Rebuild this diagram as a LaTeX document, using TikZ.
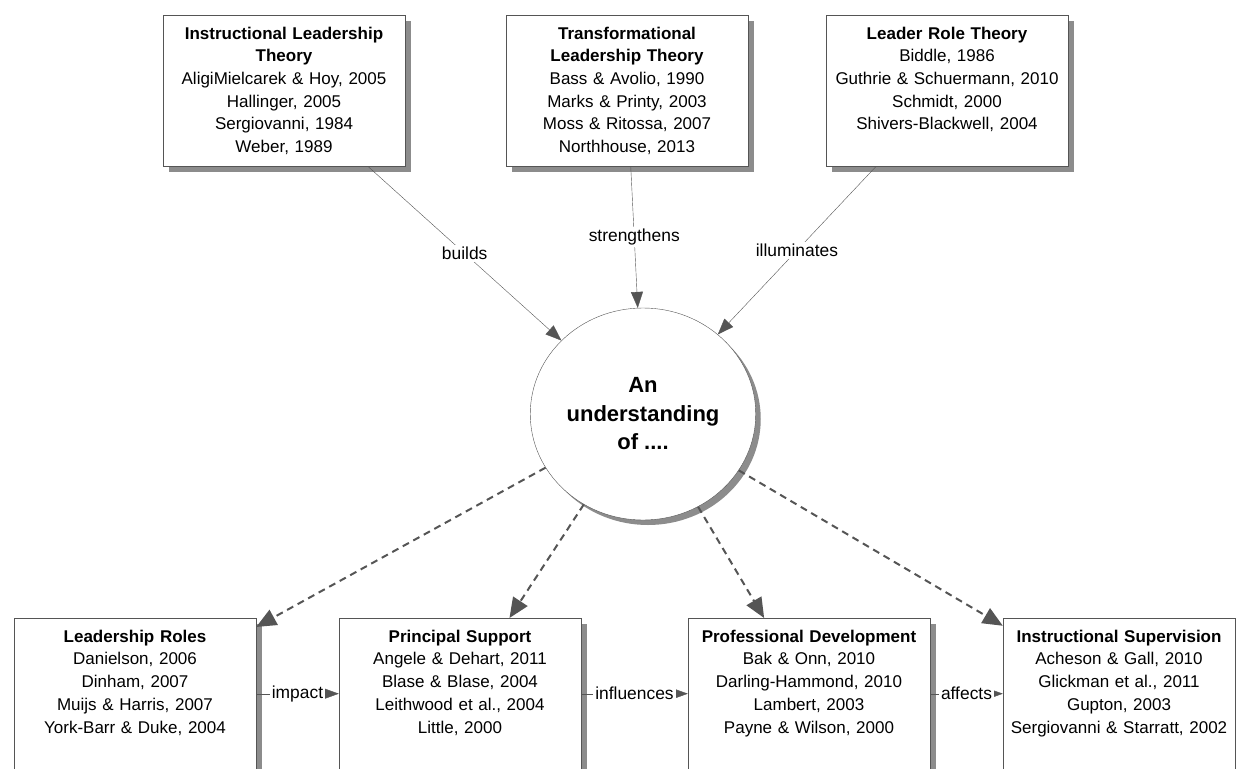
\documentclass[tikz,border=0pt]{standalone}
\usepackage{fontspec}
\setmainfont{Liberation Sans}
\usetikzlibrary{arrows.meta,shapes.geometric,shadows}

\definecolor{trait}{HTML}{555555}
\definecolor{ombre}{HTML}{8C8C8C}

\tikzset{
  boite/.style={draw=trait, fill=white, align=center, text width=226pt,
    inner xsep=8pt, inner ysep=8pt, text height=16pt, text depth=119pt,
    anchor=north, font=\fontsize{17}{22.7}\selectfont,
    drop shadow={shadow xshift=6pt, shadow yshift=-6pt, fill=ombre, opacity=1}},
  lien/.style={fill=white, inner sep=2pt, font=\fontsize{17.4}{20}\selectfont},
  fleche/.style={draw=trait, -{Triangle[length=16pt,width=12pt]}},
  pointille/.style={draw=trait, line width=2pt, dash pattern=on 7pt off 5pt,
    -{Triangle[length=20pt,width=17pt]}},
  suite/.style={draw=trait, -{Triangle[length=14pt,width=10pt]}}
}

\begin{document}
\begin{tikzpicture}[x=1pt,y=-1pt]
    \useasboundingbox (0,0) rectangle (1236,768);

    % Theories en haut
    \node[boite] (ilt) at (284,15) {\textbf{Instructional Leadership\\Theory}\\AligiMielcarek \& Hoy, 2005\\Hallinger, 2005\\Sergiovanni, 1984\\Weber, 1989};
    \node[boite] (tlt) at (627,15) {\textbf{Transformational\\Leadership Theory}\\Bass \& Avolio, 1990\\Marks \& Printy, 2003\\Moss \& Ritossa, 2007\\Northhouse, 2013};
    \node[boite] (lrt) at (947,15) {\textbf{Leader Role Theory}\\Biddle, 1986\\Guthrie \& Schuermann, 2010\\Schmidt, 2000\\Shivers-Blackwell, 2004};

    % Cercle central
    \node[ellipse, draw=trait, fill=white, minimum width=225pt, minimum height=212pt,
        align=center, font=\bfseries\fontsize{22}{28.5}\selectfont,
        drop shadow={shadow xshift=5pt, shadow yshift=-5pt, fill=ombre, opacity=1}]
        (comp) at (643,414) {An\\understanding\\of ....};

    % Liens vers le cercle
    \draw[fleche] (ilt) -- node[lien] {builds} (comp);
    \draw[fleche] (tlt) -- node[lien] {strengthens} (comp);
    \draw[fleche] (lrt) -- node[lien] {illuminates} (comp);

    % Domaines en bas
    \node[boite] (lr) at (135,618) {\textbf{Leadership Roles}\\Danielson, 2006\\Dinham, 2007\\Muijs \& Harris, 2007\\York-Barr \& Duke, 2004};
    \node[boite] (ps) at (460,618) {\textbf{Principal Support}\\Angele \& Dehart, 2011\\Blase \& Blase, 2004\\Leithwood et al., 2004\\Little, 2000};
    \node[boite] (pd) at (809,618) {\textbf{Professional Development}\\Bak \& Onn, 2010\\Darling-Hammond, 2010\\Lambert, 2003\\Payne \& Wilson, 2000};
    \node[boite, inner xsep=3pt] (is) at (1119,618) {\textbf{Instructional Supervision}\\Acheson \& Gall, 2010\\Glickman et al., 2011\\Gupton, 2003\\Sergiovanni \& Starratt, 2002};

    % Fleches pointillees
    \foreach \b in {lr, ps, pd, is}
        \draw[pointille] (comp) -- (\b);

    % Liens entre domaines
    \foreach \a/\b/\t in {lr/ps/impact, ps/pd/influences, pd/is/affects}
        \draw[suite] (\a) -- node[lien] {\t} (\b);
\end{tikzpicture}
\end{document}
